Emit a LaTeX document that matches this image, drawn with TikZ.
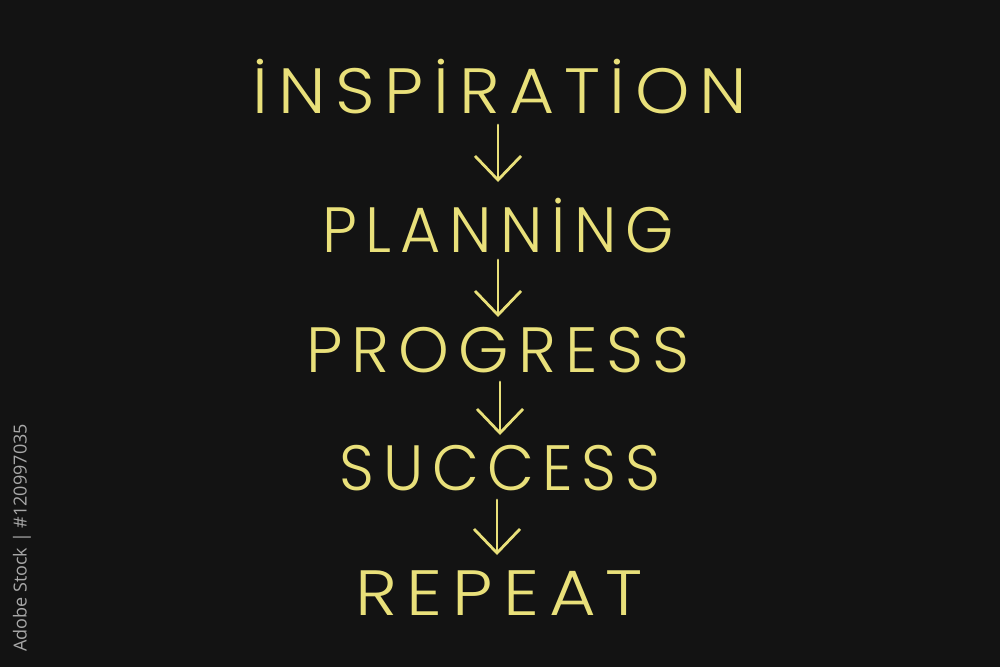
\documentclass[tikz,border=0pt]{standalone}
\usepackage{fontspec}
\usepackage{graphicx}
\usetikzlibrary{arrows.meta}
\setmainfont{Open Sans}
\newfontfamily\chalkfont[LetterSpace=14]{Poppins Light}
\definecolor{board}{HTML}{131313}
\definecolor{chalk}{HTML}{E9E07A}
\definecolor{stamp}{HTML}{A8A8A8}
\newcommand{\fitword}[2]{\resizebox{#1pt}{\height}{#2}}
\tikzset{
  word/.style={text=chalk, anchor=base, inner sep=0pt,
    font=\chalkfont\fontsize{64}{64}\selectfont},
  flow/.style={draw=chalk, line width=2.8pt, line cap=round,
    -{Straight Barb[length=24pt,width=46pt,line width=2.8pt]}}
}
\begin{document}
\begin{tikzpicture}[x=1pt,y=-1pt]
  \fill[board] (0,0) rectangle (1000,667);
  \useasboundingbox (0,0) rectangle (1000,667);

  \node[word] (insp) at (500,113) {\fitword{494}{İNSPİRATİON}};
  \node[word] (plan) at (498,252) {\fitword{351}{PLANNİNG}};
  \node[word] (prog) at (498,372) {\fitword{383}{PROGRESS}};
  \node[word] (succ) at (500,490) {\fitword{320}{SUCCESS}};
  \node[word] (rept) at (499,615) {\fitword{288}{REPEAT}};

  \draw[flow]([xshift=-2pt,yshift=-12pt]insp.base) -- ([yshift=70pt]plan.base);
  \draw[flow]([yshift=-8pt]plan.base) -- ([yshift=55pt]prog.base);
  \draw[flow]([xshift=2pt,yshift=-10pt]prog.base) -- ([yshift=55pt]succ.base);
  \draw[flow]([xshift=-3pt,yshift=-10pt]succ.base) -- ([xshift=-2pt,yshift=60pt]rept.base);

  % stock id along the left edge
  \node[text=stamp, rotate=90, anchor=west, inner sep=0pt,
    font=\fontsize{18}{18}\selectfont] (stockid) at (22,652)
    {Adobe Stock | \#120997035};
\end{tikzpicture}
\end{document}
